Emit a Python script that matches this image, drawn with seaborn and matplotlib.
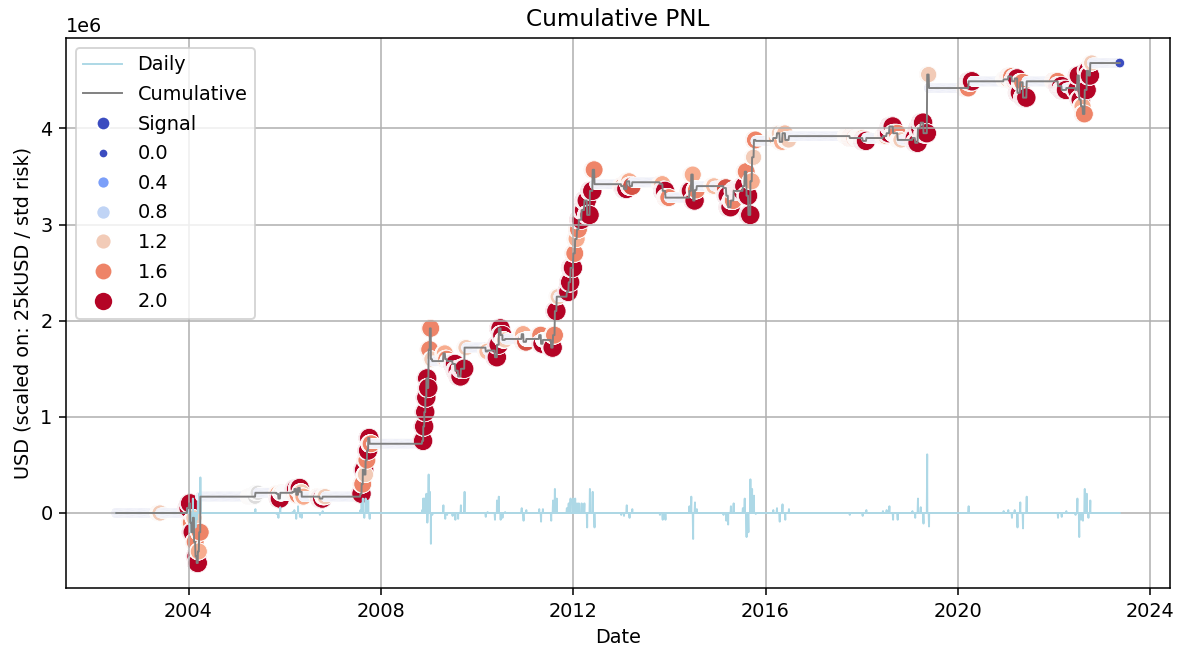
import numpy as np
import pandas as pd
import seaborn as sns
import matplotlib.pyplot as plt
from matplotlib.lines import Line2D

# cumulative pnl change points (USD millions) and the signal held from that date on
event_dates = [
    '2002-07-01', '2003-05-12', '2003-06-02',
    '2003-12-22', '2004-01-05', '2004-01-14', '2004-01-23', '2004-02-03', '2004-02-12',
    '2004-02-23', '2004-03-03', '2004-03-12', '2004-03-22', '2004-03-31',
    '2005-03-28', '2005-05-02', '2005-05-23', '2005-06-13', '2005-10-31', '2005-11-14',
    '2005-11-28', '2005-12-12', '2006-03-01', '2006-03-15', '2006-03-29', '2006-04-12',
    '2006-04-26', '2006-05-10', '2006-05-24', '2006-09-04', '2006-09-25', '2006-10-16',
    '2006-11-06', '2007-07-30', '2007-08-08', '2007-08-17', '2007-08-28', '2007-09-07',
    '2007-09-18', '2007-09-27', '2007-10-08', '2007-10-22',
    '2008-11-10', '2008-11-18', '2008-11-26', '2008-12-04', '2008-12-12', '2008-12-19',
    '2008-12-29', '2009-01-07', '2009-01-15', '2009-01-26', '2009-04-20', '2009-05-04',
    '2009-05-18', '2009-06-29', '2009-07-20', '2009-08-10', '2009-08-31', '2009-09-28',
    '2009-10-12', '2010-03-08', '2010-03-22', '2010-05-17', '2010-06-01', '2010-06-15',
    '2010-06-29', '2010-07-13', '2010-08-02', '2010-12-06', '2010-12-20', '2011-01-10',
    '2011-04-18', '2011-05-02', '2011-05-16', '2011-07-18', '2011-08-01', '2011-08-15',
    '2011-08-29', '2011-09-12',
    '2011-11-14', '2011-11-28', '2011-12-12', '2012-01-02', '2012-01-16', '2012-01-30',
    '2012-02-13', '2012-03-05', '2012-03-26', '2012-04-16', '2012-05-07', '2012-05-28',
    '2012-06-11', '2012-12-31', '2013-01-21', '2013-02-11', '2013-03-04', '2013-03-25',
    '2013-10-21', '2013-11-11', '2013-12-02', '2013-12-30', '2014-06-02', '2014-06-16',
    '2014-06-30', '2014-07-14', '2014-07-28', '2014-11-17', '2014-12-08', '2015-02-16',
    '2015-03-09', '2015-03-23', '2015-04-13', '2015-05-04', '2015-07-13', '2015-07-27',
    '2015-08-10', '2015-08-24', '2015-09-08', '2015-09-21', '2015-10-05', '2015-10-19',
    '2016-02-29', '2016-03-28', '2016-04-18', '2016-05-09', '2016-05-30', '2016-06-27',
    '2017-08-28', '2017-10-02', '2017-11-13', '2018-01-08', '2018-02-05', '2018-06-11',
    '2018-07-09', '2018-07-30', '2018-08-27', '2018-10-01', '2018-10-29', '2019-01-21',
    '2019-02-11', '2019-03-04', '2019-03-25', '2019-04-15', '2019-05-13', '2019-05-27',
    '2020-02-24', '2020-03-23', '2020-04-20', '2020-12-14', '2021-01-18', '2021-02-15',
    '2021-03-08', '2021-03-29', '2021-04-19', '2021-05-10', '2021-06-07', '2021-12-27',
    '2022-01-31', '2022-02-28', '2022-04-04', '2022-06-13', '2022-06-27', '2022-07-11',
    '2022-07-25', '2022-08-08', '2022-08-22', '2022-09-06', '2022-09-19', '2022-10-03',
    '2022-10-17', '2023-05-15',
]
cum_musd = [
    0.00, 0.00, 0.00,
    0.05, 0.10, -0.10, -0.20, -0.05, -0.30,
    -0.45, -0.52, -0.40, -0.20, 0.17,
    0.17, 0.17, 0.21, 0.21, 0.20, 0.15,
    0.21, 0.21, 0.22, 0.25, 0.19, 0.26,
    0.22, 0.17, 0.17, 0.17, 0.15, 0.17,
    0.17, 0.20, 0.30, 0.45, 0.40, 0.55,
    0.65, 0.78, 0.72, 0.72,
    0.75, 0.90, 1.05, 1.20, 1.40, 1.30,
    1.70, 1.92, 1.60, 1.58, 1.66, 1.60,
    1.58, 1.55, 1.48, 1.42, 1.50, 1.72,
    1.72, 1.68, 1.69, 1.62, 1.75, 1.92,
    1.85, 1.80, 1.81, 1.86, 1.78, 1.81,
    1.85, 1.76, 1.80, 1.72, 1.85, 2.10,
    2.25, 2.25,
    2.30, 2.40, 2.55, 2.70, 2.85, 2.95,
    3.05, 3.15, 3.25, 3.10, 3.35, 3.57,
    3.42, 3.40, 3.37, 3.45, 3.40, 3.44,
    3.42, 3.35, 3.28, 3.28, 3.35, 3.52,
    3.25, 3.36, 3.40, 3.40, 3.40, 3.38,
    3.30, 3.18, 3.25, 3.35, 3.40, 3.55,
    3.30, 3.10, 3.45, 3.70, 3.88, 3.87,
    3.90, 3.95, 3.86, 3.95, 3.88, 3.92,
    3.92, 3.90, 3.90, 3.87, 3.90, 3.92,
    3.95, 4.02, 3.95, 3.88, 3.88, 3.90,
    3.85, 4.00, 4.06, 3.95, 4.56, 4.42,
    4.42, 4.49, 4.49, 4.51, 4.54, 4.49,
    4.52, 4.37, 4.48, 4.32, 4.49, 4.49,
    4.44, 4.40, 4.42, 4.40, 4.55, 4.30,
    4.23, 4.15, 4.40, 4.60, 4.55, 4.68,
    4.68, 4.68,
]
signal = [
    0.0, 1.2, 0.0,
    2.0, 2.0, 1.6, 2.0, 1.2, 1.6,
    2.0, 2.0, 1.4, 1.6, 0.0,
    1.1, 1.0, 1.0, 0.0, 1.4, 2.0,
    1.2, 0.9, 1.4, 2.0, 1.6, 2.0,
    1.2, 1.4, 0.0, 1.3, 2.0, 1.2,
    0.0, 2.0, 1.6, 2.0, 1.2, 1.6,
    2.0, 2.0, 1.6, 0.0,
    2.0, 2.0, 2.0, 2.0, 2.0, 2.0,
    1.6, 1.6, 1.2, 0.0, 1.4, 1.6,
    0.9, 2.0, 2.0, 2.0, 2.0, 1.2,
    0.0, 1.3, 0.0, 2.0, 2.0, 2.0,
    2.0, 1.2, 0.0, 1.4, 1.8, 0.9,
    1.6, 2.0, 0.9, 2.0, 1.6, 2.0,
    1.2, 0.0,
    2.0, 2.0, 2.0, 1.6, 1.4, 1.6,
    2.0, 2.0, 2.0, 2.0, 2.0, 1.6,
    0.0, 1.6, 2.0, 1.4, 1.8, 0.0,
    1.4, 2.0, 1.6, 0.0, 2.0, 1.4,
    2.0, 1.6, 0.0, 1.3, 0.0, 1.8,
    2.0, 2.0, 1.6, 2.0, 2.0, 1.6,
    2.0, 2.0, 1.4, 1.2, 1.6, 0.0,
    1.3, 1.2, 1.4, 1.3, 1.2, 0.0,
    1.2, 1.6, 1.3, 2.0, 0.0, 1.4,
    2.0, 2.0, 1.6, 1.2, 0.0, 2.0,
    2.0, 2.0, 2.0, 2.0, 1.2, 0.0,
    1.6, 2.0, 0.0, 1.2, 1.6, 1.4,
    2.0, 2.0, 1.6, 2.0, 0.0, 1.6,
    2.0, 2.0, 0.0, 2.0, 2.0, 2.0,
    1.4, 1.6, 2.0, 2.0, 2.0, 1.2,
    0.0, 0.0,
]
legend_levels = [0.0, 0.4, 0.8, 1.2, 1.6, 2.0]

SIZES = (25, 100)
SIG_NORM = (0, 2)

# daily (business day) book: pnl only moves on the change points above
ev = pd.DataFrame({'cum': np.array(cum_musd) * 1e6, 'signal': signal},
                  index=pd.to_datetime(event_dates))
days = pd.bdate_range(ev.index.min(), ev.index.max()).union(ev.index)
book = ev.reindex(days).ffill()
book['daily'] = book['cum'].diff().fillna(0.0)
book.index.name = 'date'
book = book.reset_index()

fig, ax = plt.subplots(figsize=(1180 / 139, 649 / 139), dpi=139)
fig.subplots_adjust(left=0.056, right=0.9915, top=0.9414, bottom=0.094)

sns.lineplot(data=book, x='date', y='daily', color='lightblue', lw=1, ax=ax)
sns.lineplot(data=book, x='date', y='cum', color='gray', lw=1, ax=ax)
sns.scatterplot(data=book, x='date', y='cum', hue='signal', size='signal',
                palette='coolwarm', hue_norm=SIG_NORM, sizes=SIZES,
                size_norm=SIG_NORM, legend=False, ax=ax)

ax.grid(True)
ax.set_title('Cumulative PNL')
ax.set_xlabel('Date')
ax.set_ylabel('USD (scaled on: 25kUSD / std risk)')

# legend
cmap = sns.color_palette('coolwarm', as_cmap=True)
handles = [Line2D([], [], color='lightblue', lw=1),
           Line2D([], [], color='gray', lw=1),
           Line2D([], [], ls='', marker='o', color=cmap(0.0), markeredgecolor='w',
                  markersize=np.sqrt(50))]
labels = ['Daily', 'Cumulative', 'Signal']
for lv in legend_levels:
    s = SIZES[0] + (lv - SIG_NORM[0]) / (SIG_NORM[1] - SIG_NORM[0]) * (SIZES[1] - SIZES[0])
    handles.append(Line2D([], [], ls='', marker='o', color=cmap(lv / SIG_NORM[1]),
                          markeredgecolor='w', markersize=np.sqrt(s)))
    labels.append(f'{lv:.1f}')
ax.legend(handles, labels, loc='upper left', labelspacing=0.55)

plt.savefig('out.png')
